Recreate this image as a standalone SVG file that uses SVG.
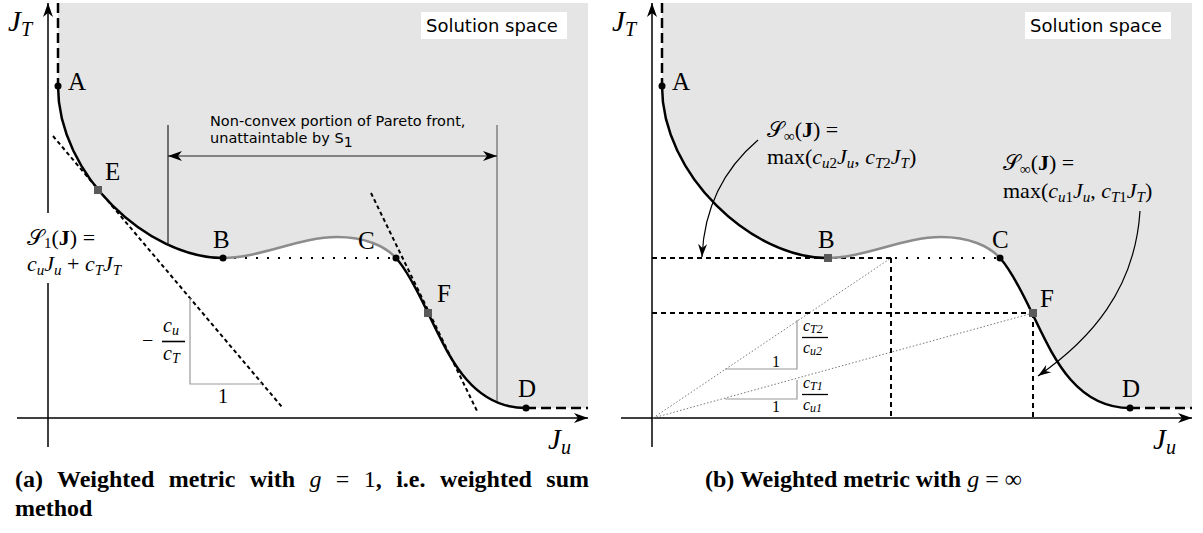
<svg xmlns="http://www.w3.org/2000/svg" width="1203" height="533" viewBox="0 0 1203 533">
<defs>
<marker id="stealth" markerUnits="userSpaceOnUse" viewBox="-15 -6 16 12" refX="0" refY="0" markerWidth="16" markerHeight="12" orient="auto-start-reverse">
<path d="M0,0 L-14,-5 L-10,0 L-14,5 Z" fill="#000"/>
</marker>
<marker id="stealth-s" markerUnits="userSpaceOnUse" viewBox="-15 -6 16 12" refX="0" refY="0" markerWidth="16" markerHeight="12" orient="auto">
<path d="M0,0 L-13,-4.5 L-9,0 L-13,4.5 Z" fill="#000"/>
</marker>
</defs>
<style>
.axis{stroke:#000;stroke-width:1.5;fill:none}
.front{stroke:#000;stroke-width:2.5;fill:none}
.nonconv{stroke:#8c8c8c;stroke-width:2.5;fill:none}
.region{fill:#e5e5e5}
.dashlg{stroke:#000;stroke-width:2.5;stroke-dasharray:10,5;fill:none}
.tangent{stroke:#000;stroke-width:2;stroke-dasharray:4,3;fill:none}
.dotted{stroke:#000;stroke-width:2;stroke-dasharray:2,9;fill:none}
.dash{stroke:#000;stroke-width:2;stroke-dasharray:5,4;fill:none}
.thindot{stroke:#777;stroke-width:1;stroke-dasharray:1.5,2;fill:none}
.tri{stroke:#999;stroke-width:1.2;fill:none}
.guide{stroke:#222;stroke-width:1.2;fill:none}
.guide2{stroke:#666;stroke-width:1.2;fill:none}
.conn{stroke:#000;stroke-width:1.2;fill:none}
.pt{fill:#000}
.sq{fill:#5a5a5a}
.lbl{font-family:"Liberation Serif",serif;font-size:25px;fill:#000}
.m{font-family:"Liberation Serif",serif;fill:#000}
.i{font-style:italic}
.sc{font-family:"DejaVu Serif","DejaVu Sans","Noto Sans",serif;font-style:normal}
.sans{font-family:"DejaVu Sans",sans-serif;fill:#000}
.cap{font-family:"Liberation Serif",serif;font-size:24px;font-weight:bold;fill:#000}
.nb{font-weight:normal}
</style>
<rect width="1203" height="533" fill="#fff"/>

<!-- Panel (a) -->
<g id="panel-a">
  <path class="region" d="M58,3 H588 V408 H526 C470,408 448,354 428,313 C418,292 407,270 396,258 C385,246 365,237 337,237 C300,237 260,258 223,258 C148,258 58,175 58,86 Z"/>
  <g id="a-solution-space">
    <rect x="421" y="12" width="146" height="27" fill="#fff"/>
    <text class="sans" x="426" y="32" font-size="18">Solution space</text>
  </g>
  <g id="a-axes">
    <path class="axis" d="M48,447 V283"/>
    <path class="axis" d="M48,213 V3" marker-end="url(#stealth)"/>
    <path class="axis" d="M17,418 H588" marker-end="url(#stealth)"/>
    <text class="m i" x="8" y="31" font-size="29">J<tspan font-size="20" dy="5">T</tspan></text>
    <text class="m i" x="548" y="449" font-size="29">J<tspan font-size="20" dy="5">u</tspan></text>
  </g>
  <g id="a-front">
    <path class="dashlg" d="M58,3 V86"/>
    <path class="dashlg" d="M526,408 H588"/>
    <path class="dotted" d="M223,258 H396"/>
    <path class="front" d="M58,86 C58,175 148,258 223,258"/>
    <path class="nonconv" d="M223,258 C260,258 300,237 337,237 C365,237 385,246 396,258"/>
    <path class="front" d="M396,258 C407,270 418,292 428,313 C448,354 470,408 526,408"/>
  </g>
  <g id="a-tangents">
    <path class="tangent" d="M53,136 L282,407"/>
    <path class="tangent" d="M371,193 L478,413"/>
    <path class="tri" d="M190,298 V384 H262"/>
  </g>
  <g id="a-nonconvex">
    <path class="guide" d="M168,125 V246"/>
    <path class="guide2" d="M497,125 V401"/>
    <text class="sans" x="210" y="126" font-size="14.5">Non-convex portion of Pareto front,</text>
    <text class="sans" x="210" y="143" font-size="14.5">unattaintable by S<tspan font-size="14" dy="4">1</tspan></text>
  </g>
  <g id="a-points">
    <circle class="pt" cx="58" cy="86" r="3.5"/>
    <circle class="pt" cx="223" cy="258" r="3.5"/>
    <circle class="pt" cx="396" cy="258" r="3.5"/>
    <circle class="pt" cx="526" cy="408" r="3.5"/>
    <rect class="sq" x="94" y="186" width="8" height="8"/>
    <rect class="sq" x="424" y="309" width="8" height="8"/>
    <text class="lbl" x="68" y="90">A</text>
    <text class="lbl" x="105" y="180">E</text>
    <text class="lbl" x="213" y="248">B</text>
    <text class="lbl" x="358" y="249">C</text>
    <text class="lbl" x="437" y="302">F</text>
    <text class="lbl" x="518" y="397">D</text>
  </g>
  <g id="a-s1-label">
    <text class="m" x="27" y="245" font-size="22"><tspan class="sc">𝒮</tspan><tspan font-size="15" dy="3">1</tspan><tspan dy="-3">(</tspan><tspan font-weight="bold">J</tspan>) =</text>
    <text class="m" x="27" y="271" font-size="22"><tspan class="i">c</tspan><tspan class="i" font-size="15" dy="4">u</tspan><tspan class="i" dy="-4">J</tspan><tspan class="i" font-size="15" dy="4">u</tspan><tspan dy="-4"> + </tspan><tspan class="i">c</tspan><tspan class="i" font-size="15" dy="4">T</tspan><tspan class="i" dy="-4">J</tspan><tspan class="i" font-size="15" dy="4">T</tspan></text>
  </g>
  <g id="a-slope">
    <text class="m" x="142" y="347" font-size="20">−</text>
    <text class="m i" x="163" y="332" font-size="20">c<tspan font-size="14" dy="3">u</tspan></text>
    <path d="M162,341.5 H185" stroke="#000" stroke-width="1.6"/>
    <text class="m i" x="163" y="360" font-size="20">c<tspan font-size="14" dy="3">T</tspan></text>
    <text class="m" x="218" y="403" font-size="20">1</text>
  </g>
</g>

<!-- Panel (b) -->
<g id="panel-b">
  <path class="region" d="M662,3 H1192 V408 H1130 C1074,408 1052,354 1032,313 C1022,292 1011,270 1000,258 C989,246 969,237 941,237 C904,237 864,258 827,258 C752,258 662,175 662,86 Z"/>
  <g id="b-solution-space">
    <rect x="1025" y="12" width="146" height="27" fill="#fff"/>
    <text class="sans" x="1030" y="32" font-size="18">Solution space</text>
  </g>
  <g id="b-axes">
    <path class="axis" d="M652,447 V3" marker-end="url(#stealth)"/>
    <path class="axis" d="M621,418 H1192" marker-end="url(#stealth)"/>
    <text class="m i" x="612" y="31" font-size="29">J<tspan font-size="20" dy="5">T</tspan></text>
    <text class="m i" x="1153" y="449" font-size="29">J<tspan font-size="20" dy="5">u</tspan></text>
  </g>
  <g id="b-guides">
    <path class="thindot" d="M653,418 L891,258"/>
    <path class="thindot" d="M653,418 L1033,313"/>
    <path class="dash" d="M652,258 H891"/>
    <path class="dotted" d="M895,258 H1000"/>
    <path class="dash" d="M891,258 V418"/>
    <path class="dash" d="M652,313 H1033"/>
    <path class="dash" d="M1033,313 V418"/>
    <path class="tri" d="M725,369 H797 V320"/>
    <path class="tri" d="M725,399 H797 V380"/>
  </g>
  <g id="b-front">
    <path class="dashlg" d="M662,3 V86"/>
    <path class="dashlg" d="M1130,408 H1192"/>
    <path class="front" d="M662,86 C662,175 752,258 827,258"/>
    <path class="nonconv" d="M827,258 C864,258 904,237 941,237 C969,237 989,246 1000,258"/>
    <path class="front" d="M1000,258 C1011,270 1022,292 1032,313 C1052,354 1074,408 1130,408"/>
  </g>
  <g id="b-points">
    <circle class="pt" cx="662" cy="86" r="3.5"/>
    <circle class="pt" cx="1000" cy="258" r="3.5"/>
    <circle class="pt" cx="1130" cy="408" r="3.5"/>
    <rect class="sq" x="824" y="254" width="8" height="8"/>
    <rect class="sq" x="1029" y="309" width="8" height="8"/>
    <text class="lbl" x="672" y="90">A</text>
    <text class="lbl" x="818" y="248">B</text>
    <text class="lbl" x="992" y="248">C</text>
    <text class="lbl" x="1040" y="307">F</text>
    <text class="lbl" x="1122" y="397">D</text>
  </g>
  <g id="b-slopes">
    <text class="m i" x="803" y="331" font-size="16">c<tspan font-size="12" dy="2">T2</tspan></text>
    <path d="M802,337.5 H828" stroke="#000" stroke-width="1.3"/>
    <text class="m i" x="803" y="353" font-size="16">c<tspan font-size="12" dy="2">u2</tspan></text>
    <text class="m" x="772" y="367" font-size="16">1</text>
    <text class="m i" x="803" y="388" font-size="16">c<tspan font-size="12" dy="2">T1</tspan></text>
    <path d="M802,394.5 H828" stroke="#000" stroke-width="1.3"/>
    <text class="m i" x="803" y="410" font-size="16">c<tspan font-size="12" dy="2">u1</tspan></text>
    <text class="m" x="772" y="412" font-size="16">1</text>
  </g>
  <g id="b-label-2">
    <text class="m" x="767" y="137" font-size="22"><tspan class="sc">𝒮</tspan><tspan font-size="15" dy="4">∞</tspan><tspan dy="-4">(</tspan><tspan font-weight="bold">J</tspan>) =</text>
    <text class="m" x="767" y="164" font-size="22">max(<tspan class="i">c</tspan><tspan class="i" font-size="15" dy="4">u</tspan><tspan font-size="15">2</tspan><tspan class="i" dy="-4">J</tspan><tspan class="i" font-size="15" dy="4">u</tspan><tspan dy="-4">, </tspan><tspan class="i">c</tspan><tspan class="i" font-size="15" dy="4">T</tspan><tspan font-size="15">2</tspan><tspan class="i" dy="-4">J</tspan><tspan class="i" font-size="15" dy="4">T</tspan><tspan dy="-4">)</tspan></text>
  </g>
  <g id="b-label-1">
    <text class="m" x="1003" y="170" font-size="22"><tspan class="sc">𝒮</tspan><tspan font-size="15" dy="4">∞</tspan><tspan dy="-4">(</tspan><tspan font-weight="bold">J</tspan>) =</text>
    <text class="m" x="1003" y="198" font-size="22">max(<tspan class="i">c</tspan><tspan class="i" font-size="15" dy="4">u</tspan><tspan font-size="15">1</tspan><tspan class="i" dy="-4">J</tspan><tspan class="i" font-size="15" dy="4">u</tspan><tspan dy="-4">, </tspan><tspan class="i">c</tspan><tspan class="i" font-size="15" dy="4">T</tspan><tspan font-size="15">1</tspan><tspan class="i" dy="-4">J</tspan><tspan class="i" font-size="15" dy="4">T</tspan><tspan dy="-4">)</tspan></text>
  </g>
</g>

<g id="connectors">
  <path class="guide" d="M168,156 H497" marker-start="url(#stealth)" marker-end="url(#stealth)"/>
  <path class="conn" d="M758,140 Q705,185 702,257" marker-end="url(#stealth-s)"/>
  <path class="conn" d="M1140,211 C1135,290 1090,340 1038,376" marker-end="url(#stealth-s)"/>
</g>

<g id="captions">
  <text class="cap" x="15" y="487" word-spacing="8.4">(a) Weighted metric with <tspan class="i nb">g</tspan><tspan class="nb"> = 1</tspan>, i.e. weighted sum</text>
  <text class="cap" x="15" y="516">method</text>
  <text class="cap" x="705" y="487">(b) Weighted metric with <tspan class="i nb">g</tspan><tspan class="nb"> = ∞</tspan></text>
</g>
</svg>
